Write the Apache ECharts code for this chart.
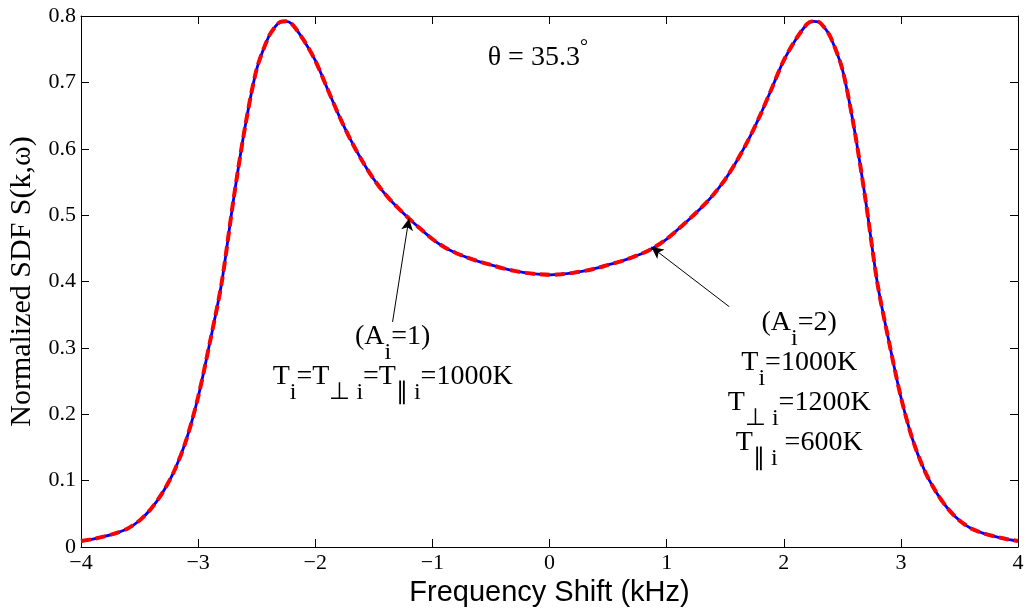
<!DOCTYPE html>
<html>
<head>
<meta charset="utf-8">
<script src="https://cdn.jsdelivr.net/npm/echarts@6/dist/echarts.min.js"></script>
<style>
  html, body { margin: 0; padding: 0; background: #fff; }
  #container { width: 1026px; height: 609px; }
</style>
</head>
<body>
<div id="container"></div>
<script>
var freqShift = [-4.0, -3.9, -3.8, -3.7, -3.6, -3.5, -3.4, -3.3, -3.2, -3.1,
    -3.0, -2.9, -2.8, -2.7, -2.6, -2.5, -2.4, -2.35, -2.3, -2.25, -2.2, -2.1,
    -2.0, -1.9, -1.8, -1.7, -1.6, -1.5, -1.4, -1.3, -1.2, -1.1,
    -1.0, -0.9, -0.8, -0.7, -0.6, -0.5, -0.4, -0.3, -0.2, -0.1,
    0.0, 0.1, 0.2, 0.3, 0.4, 0.5, 0.6, 0.7, 0.8, 0.9,
    1.0, 1.1, 1.2, 1.3, 1.4, 1.5, 1.6, 1.7, 1.8, 1.9,
    2.0, 2.1, 2.2, 2.25, 2.3, 2.35, 2.4, 2.5, 2.6, 2.7, 2.8, 2.9,
    3.0, 3.1, 3.2, 3.3, 3.4, 3.5, 3.6, 3.7, 3.8, 3.9, 4.0];

// A_i = 1, isotropic
var sdfA1 = [0.009, 0.012, 0.016, 0.021, 0.028, 0.040, 0.058, 0.083, 0.116, 0.162,
    0.226, 0.308, 0.397, 0.521, 0.632, 0.720, 0.768, 0.782, 0.791, 0.792, 0.788, 0.764,
    0.733, 0.692, 0.651, 0.614, 0.582, 0.554, 0.531, 0.512, 0.495, 0.479,
    0.464, 0.452, 0.443, 0.436, 0.430, 0.425, 0.420, 0.416, 0.413, 0.411,
    0.410, 0.411, 0.413, 0.416, 0.420, 0.425, 0.430, 0.436, 0.443, 0.452,
    0.464, 0.479, 0.495, 0.512, 0.531, 0.554, 0.582, 0.614, 0.651, 0.692,
    0.733, 0.764, 0.788, 0.792, 0.791, 0.782, 0.768, 0.720, 0.632, 0.521, 0.397, 0.308,
    0.226, 0.162, 0.116, 0.083, 0.058, 0.040, 0.028, 0.021, 0.016, 0.012, 0.009];

// A_i = 2, anisotropic (same curve)
var sdfA2 = [0.009, 0.012, 0.016, 0.021, 0.028, 0.040, 0.058, 0.083, 0.116, 0.162,
    0.226, 0.308, 0.397, 0.521, 0.632, 0.720, 0.768, 0.782, 0.791, 0.792, 0.788, 0.764,
    0.733, 0.692, 0.651, 0.614, 0.582, 0.554, 0.531, 0.512, 0.495, 0.479,
    0.464, 0.452, 0.443, 0.436, 0.430, 0.425, 0.420, 0.416, 0.413, 0.411,
    0.410, 0.411, 0.413, 0.416, 0.420, 0.425, 0.430, 0.436, 0.443, 0.452,
    0.464, 0.479, 0.495, 0.512, 0.531, 0.554, 0.582, 0.614, 0.651, 0.692,
    0.733, 0.764, 0.788, 0.792, 0.791, 0.782, 0.768, 0.720, 0.632, 0.521, 0.397, 0.308,
    0.226, 0.162, 0.116, 0.083, 0.058, 0.040, 0.028, 0.021, 0.016, 0.012, 0.009];

// arrows: [tail, tip] in data coords
var arrowA1 = [[-1.34, 0.339], [-1.2, 0.495]];
var arrowA2 = [[1.535, 0.362], [0.87, 0.452]];

var serif = 'Liberation Serif';

function pairs(xs, ys) {
    var out = [];
    for (var i = 0; i < xs.length; i++) {
        out.push([xs[i], ys[i]]);
    }
    return out;
}

var dom = document.getElementById('container');
var myChart = echarts.init(dom);

var tickStyle = { show: true, inside: true, length: 8, lineStyle: { color: '#000', width: 1 } };
var lineStyle = { show: true, onZero: false, lineStyle: { color: '#000', width: 1 } };

var option = {
    animation: false,
    backgroundColor: '#fff',
    grid: { left: 81, right: 8, top: 16, bottom: 62, containLabel: false, outerBoundsMode: 'none' },
    xAxis: [{
        type: 'value',
        min: -4, max: 4, interval: 1,
        position: 'bottom',
        axisLine: lineStyle,
        axisTick: tickStyle,
        splitLine: { show: false },
        axisLabel: {
            margin: 5,
            fontFamily: serif, fontSize: 22, color: '#000',
            formatter: function(v) { return String(v).replace('-', '\u2212'); }
        },
        name: 'Frequency Shift (kHz)',
        nameLocation: 'middle',
        nameGap: 30,
        nameTextStyle: { fontFamily: 'Liberation Sans', fontSize: 29, color: '#000' }
    }, {
        type: 'value',
        min: -4, max: 4, interval: 1,
        position: 'top',
        axisLine: lineStyle,
        axisTick: tickStyle,
        axisLabel: { show: false },
        splitLine: { show: false }
    }],
    yAxis: [{
        type: 'value',
        min: 0, max: 0.8, interval: 0.1,
        position: 'left',
        axisLine: lineStyle,
        axisTick: tickStyle,
        splitLine: { show: false },
        axisLabel: {
            margin: 5,
            fontFamily: serif, fontSize: 22, color: '#000'
        },
        name: 'Normalized SDF S(k,\u03c9)',
        nameLocation: 'middle',
        nameGap: 42,
        nameTextStyle: { fontFamily: serif, fontSize: 30, color: '#000' }
    }, {
        type: 'value',
        min: 0, max: 0.8, interval: 0.1,
        position: 'right',
        axisLine: lineStyle,
        axisTick: tickStyle,
        axisLabel: { show: false },
        splitLine: { show: false }
    }],
    series: [{
        name: 'A1',
        type: 'line',
        data: pairs(freqShift, sdfA1),
        smooth: 0.3,
        showSymbol: false,
        lineStyle: { color: '#0000ff', width: 2.8 },
        markLine: {
            silent: true,
            symbol: ['none', 'arrow'],
            symbolSize: [9, 12],
            label: { show: false },
            lineStyle: { color: '#000', width: 1, type: 'solid' },
            data: [
                [{ coord: arrowA1[0] }, { coord: arrowA1[1] }],
                [{ coord: arrowA2[0] }, { coord: arrowA2[1] }]
            ]
        }
    }, {
        name: 'A2',
        type: 'line',
        data: pairs(freqShift, sdfA2),
        smooth: 0.3,
        showSymbol: false,
        lineStyle: { color: '#ff0000', width: 4, type: [10, 5] }
    }]
};
myChart.setOption(option);

// annotation text, anchored in data coords
var rich = {
    n: { fontFamily: serif, fontSize: 28, lineHeight: 40, verticalAlign: 'middle', color: '#000' },
    s: { fontFamily: serif, fontSize: 24, lineHeight: 16, verticalAlign: 'top', padding: [24, 0, 0, 0], color: '#000' },
    d: { fontFamily: serif, fontSize: 20, lineHeight: 20, verticalAlign: 'top', color: '#000' }
};

function textAt(x, y, str) {
    var p = myChart.convertToPixel({ gridIndex: 0 }, [x, y]);
    return {
        type: 'text',
        x: p[0], y: p[1],
        style: { text: str, rich: rich, align: 'center', verticalAlign: 'top' }
    };
}

myChart.setOption({
    graphic: [
        textAt(-0.10, 0.767, '{n|\u03b8 = 35.3}{d|\u00b0}'),
        textAt(-1.339, 0.3465,
            '{n|(A}{s|i}{n|=1)}\n{n|T}{s|i}{n|=T}{s|\u22a5 i}{n|=T}{s|\u2225 i}{n|=1000K}'),
        textAt(2.132, 0.3676,
            '{n|(A}{s|i}{n|=2)}\n{n|T}{s|i}{n|=1000K}\n{n|T}{s|\u22a5 i}{n|=1200K}\n{n|T}{s|\u2225 i}{n| =600K}')
    ]
});
</script>
</body>
</html>
